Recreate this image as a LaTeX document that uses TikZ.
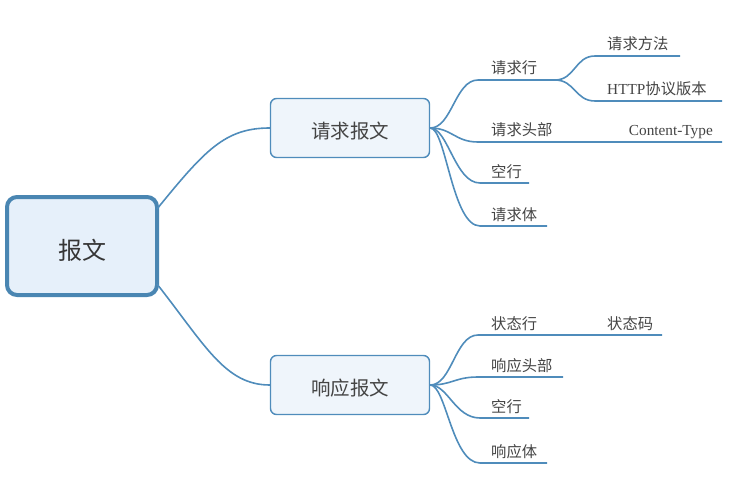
\documentclass[tikz,border=0pt]{standalone}
\usepackage{fontspec}
\setmainfont{Noto Sans CJK SC}
\newfontfamily\lat{Liberation Serif}
\definecolor{lineblue}{HTML}{4F8CBB}
\definecolor{rootborder}{HTML}{4A86B2}
\definecolor{rootfill}{HTML}{E6F0FA}
\definecolor{boxfill}{HTML}{EFF5FB}
\definecolor{txt}{HTML}{444444}
\begin{document}
\begin{tikzpicture}[x=1pt,y=-1pt,
  conn/.style={draw=lineblue,line width=1.6pt},
  leaf/.style={anchor=base west,inner sep=0pt,text=txt,font=\fontsize{15.3}{17}\selectfont},
  rootbox/.style={draw=rootborder,fill=rootfill,line width=4pt,rounded corners=10pt,minimum width=150pt,minimum height=98pt},
  subbox/.style={draw=lineblue,fill=boxfill,line width=1.4pt,rounded corners=6pt,minimum width=159pt,minimum height=59pt},
  roottext/.style={yshift=-4pt,text=txt!80!black,font=\fontsize{24}{28}\selectfont},
  subtext/.style={yshift=-3pt,text=txt,font=\fontsize{19.5}{22}\selectfont}]
\useasboundingbox (0,0) rectangle (751,489);
% main nodes
\node[rootbox,label={[roottext]center:报文}] (root) at (82,246) {};
\node[subbox,label={[subtext]center:请求报文}] (req) at (350,128) {};
\node[subbox,label={[subtext]center:响应报文}] (resp) at (350,385) {};
\coordinate (rootA) at (157,209);
\coordinate (rootB) at (157,284);
\draw[conn] (rootA) .. controls (205,150) and (225,128) .. (req.west);
\draw[conn] (rootB) .. controls (205,345) and (225,385) .. (resp.west);
% request children
\coordinate (a1s) at (478,80); \coordinate (a1e) at (555,80);
\coordinate (a2s) at (478,142); \coordinate (a2e) at (722,142);
\coordinate (a3s) at (480,183); \coordinate (a3e) at (529,183);
\coordinate (a4s) at (480,226); \coordinate (a4e) at (547,226);
\coordinate (b1s) at (595,56); \coordinate (b1e) at (680,56);
\coordinate (b2s) at (595,101); \coordinate (b2e) at (722,101);
\node[leaf] (a1) at (491,74) {请求行};
\node[leaf] (a2) at (491,136) {请求头部};
\node[leaf] (a3) at (491,177) {空行};
\node[leaf] (a4) at (491,220) {请求体};
\node[leaf] (b1) at (607,50) {请求方法};
\node[leaf] (b2) at (607,95) {{\lat HTTP}协议版本};
\node[leaf,anchor=base east] (b3) at (713,136) {\lat Content-Type};
\draw[conn] (req.east) .. controls (452,128) and (455,80) .. (a1s) -- (a1e);
\draw[conn] (req.east) .. controls (452,128) and (455,142) .. (a2s) -- (a2e);
\draw[conn] (req.east) .. controls (448,128) and (455,183) .. (a3s) -- (a3e);
\draw[conn] (req.east) .. controls (446,128) and (452,226) .. (a4s) -- (a4e);
\draw[conn] (a1e) .. controls (575,80) and (575,56) .. (b1s) -- (b1e);
\draw[conn] (a1e) .. controls (575,80) and (575,101) .. (b2s) -- (b2e);
% response children
\coordinate (c1s) at (478,335); \coordinate (c1e) at (662,335);
\coordinate (c2s) at (478,377); \coordinate (c2e) at (563,377);
\coordinate (c3s) at (480,418); \coordinate (c3e) at (529,418);
\coordinate (c4s) at (480,463); \coordinate (c4e) at (547,463);
\node[leaf] (c1) at (491,329) {状态行};
\node[leaf] (c2) at (491,371) {响应头部};
\node[leaf] (c3) at (491,412) {空行};
\node[leaf] (c4) at (491,457) {响应体};
\node[leaf] (d1) at (607,329) {状态码};
\draw[conn] (resp.east) .. controls (452,385) and (455,335) .. (c1s) -- (c1e);
\draw[conn] (resp.east) .. controls (452,385) and (455,377) .. (c2s) -- (c2e);
\draw[conn] (resp.east) .. controls (448,385) and (455,418) .. (c3s) -- (c3e);
\draw[conn] (resp.east) .. controls (446,385) and (452,463) .. (c4s) -- (c4e);
\end{tikzpicture}
\end{document}
